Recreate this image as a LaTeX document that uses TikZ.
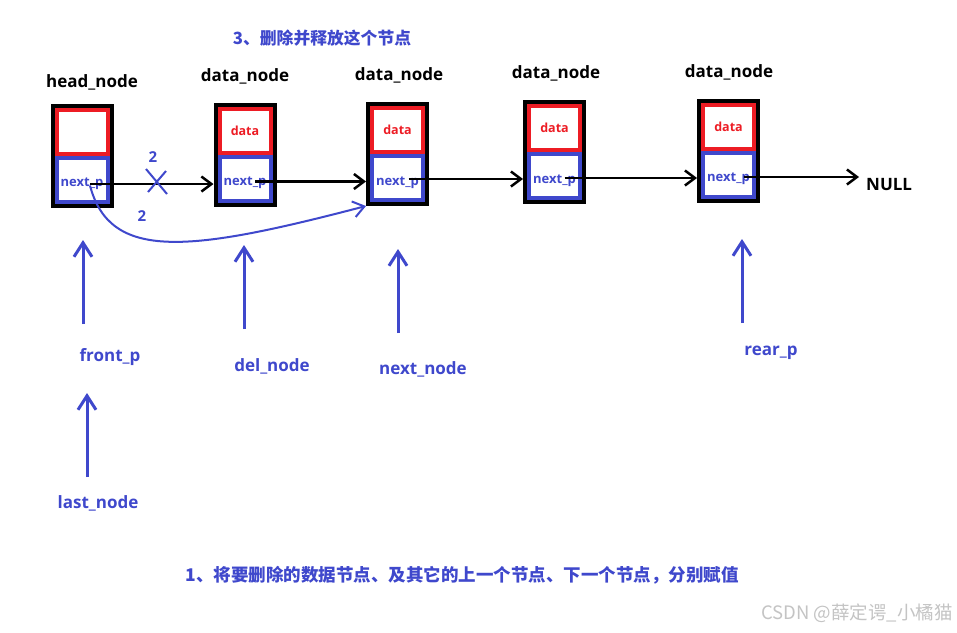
\documentclass[tikz,border=0pt]{standalone}
\usepackage{fontspec}
\setmainfont{Open Sans}
\newfontfamily\cjk{Noto Sans CJK SC}
\usetikzlibrary{arrows.meta,calc}
\definecolor{pblue}{HTML}{3F48CC}
\definecolor{pred}{HTML}{ED1C24}
\definecolor{wmgray}{HTML}{C4C4C4}

\tikzset{
  frame/.style={draw=black,line width=4pt,minimum width=59pt,minimum height=100pt,inner sep=0pt},
  cell/.style={line width=4pt,minimum width=51pt,minimum height=44pt,inner sep=0pt,
    font=\bfseries\fontsize{12.5}{14}\selectfont},
  datacell/.style={cell,draw=pred,text=pred},
  ptrcell/.style={cell,draw=pblue},
  ptrtext/.style={anchor=base,inner sep=0pt,text=pblue,font=\bfseries\fontsize{13}{15}\selectfont},
  title/.style={font=\bfseries\fontsize{17}{20}\selectfont,text=black,inner sep=0pt},
  tag/.style={font=\bfseries\fontsize{17}{20}\selectfont,text=pblue,inner sep=0pt},
  note/.style={font=\cjk\bfseries\fontsize{16.8}{20}\selectfont,text=pblue,inner sep=0pt},
  link/.style={draw=black,line width=2.5pt,-{Straight Barb[length=10pt,width=15pt]}},
  pointer/.style={draw=pblue,line width=3pt,-{Straight Barb[length=14pt,width=18pt]}},
  relink/.style={draw=pblue,line width=2pt,-{Straight Barb[length=11pt,width=16pt]}},
}

% one list element: name, x, y, text of the data field
\newcommand\listcell[4]{%
  \node[frame] (#1) at (#2,#3) {};
  \node[datacell] (#1d) at ($(#1.center)+(0,-24)$) {#4};
  \node[ptrcell] (#1p) at ($(#1.center)+(0,24)$) {};
  \node[ptrtext] (#1t) at ($(#1p.center)+(0,7)$) {next\_p};
}

\begin{document}
\begin{tikzpicture}[x=1pt,y=-1pt]
\useasboundingbox[fill=white] (0,0) rectangle (957,632);

% the list elements
\listcell{hd}{82}{155.5}{}
\listcell{da}{245}{154.5}{data}
\listcell{db}{397.5}{154}{data}
\listcell{dc}{554.5}{152}{data}
\listcell{dd}{728.5}{150.5}{data}

\node[title] (thd) at (92,82) {head\_node};
\node[title] (tda) at (245,76) {data\_node};
\node[title] (tdb) at (399,75) {data\_node};
\node[title] (tdc) at (556,73) {data\_node};
\node[title] (tdd) at (729,72) {data\_node};

\node[title,anchor=west] (null) at (866,185) {NULL};

% next pointers
\draw[link] ($(hdp.center)+(8,4.5)$) coordinate (s0) -- (s0 -| da.west);
\draw[link] ($(dap.center)+(10,3)$) coordinate (s1) -- (s1 -| db.west);
\draw[link] ($(dbp.center)+(11,1)$) coordinate (s2) -- (s2 -| dc.west);
\draw[link] ($(dcp.center)+(10,2)$) coordinate (s3) -- (s3 -| dd.west);
\draw[link,shorten >=7pt] ($(ddp.center)+(15,2.5)$) coordinate (s4) -- (s4 -| null.west);

% the old link is cut, the new one skips the deleted element
\draw[pblue,line width=2pt] (146,169) -- (167,194) (148,192) -- (166,171);
\node[tag,font=\bfseries\fontsize{15}{18}\selectfont] (c1) at (153,157) {2};
\node[tag,font=\bfseries\fontsize{15}{18}\selectfont] (c2) at (142,216) {2};
\draw[relink] ($(hdp.center)+(8,6)$) .. controls (110,262) and (190,252) .. (db.south west);

% step 3
\node[note] (n3) at (322,38) {3、删除并释放这个节点};

% helper pointers
\node[tag] (fp) at (110,357) {front\_p};
\node[tag] (dn) at (272,366) {del\_node};
\node[tag] (nn) at (423,369) {next\_node};
\node[tag] (rp) at (771,353) {rear\_p};
\node[tag] (ln) at (98,503) {last\_node};

\coordinate (fpa) at (83,324);  \coordinate (fpb) at (83,240);
\coordinate (dna) at (244,329); \coordinate (dnb) at (244,245);
\coordinate (nna) at (398,333); \coordinate (nnb) at (398,249);
\coordinate (rpa) at (742,323); \coordinate (rpb) at (742,239);
\coordinate (lna) at (87,477);  \coordinate (lnb) at (87,393);
\draw[pointer] (fpa) -- (fpb);
\draw[pointer] (dna) -- (dnb);
\draw[pointer] (nna) -- (nnb);
\draw[pointer] (rpa) -- (rpb);
\draw[pointer] (lna) -- (lnb);

% step 1
\node[note,font=\cjk\bfseries\fontsize{17.5}{20}\selectfont] (n1) at (462,575) {1、将要删除的数据节点、及其它的上一个节点、下一个节点，分别赋值};

\node[font=\cjk\fontsize{18.5}{20}\selectfont,text=wmgray,anchor=east,inner sep=0pt] (wm) at (953,613) {CSDN @薛定谔\_小橘猫};
\end{tikzpicture}
\end{document}
